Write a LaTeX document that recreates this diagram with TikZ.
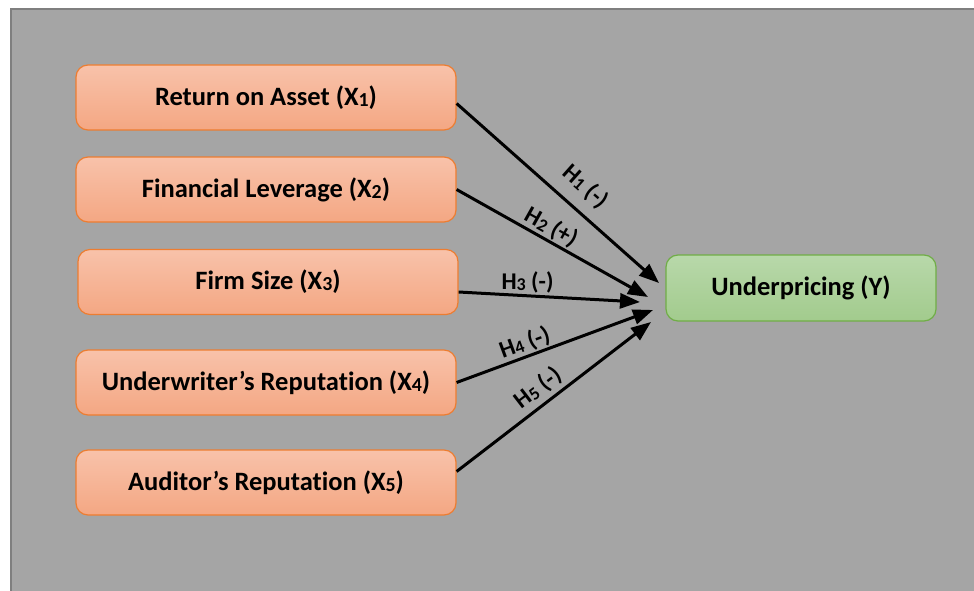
\documentclass[tikz,border=0pt]{standalone}
\usepackage{fontspec}
\setmainfont{Carlito}[Ligatures=NoCommon]
\usetikzlibrary{arrows.meta}

\definecolor{framegray}{HTML}{7F7F7F}
\definecolor{bggray}{HTML}{A5A5A5}
\definecolor{boxline}{HTML}{ED7D31}
\definecolor{boxtop}{HTML}{F8C2AA}
\definecolor{boxbot}{HTML}{F4A783}
\definecolor{depline}{HTML}{70AD47}
\definecolor{deptop}{HTML}{B8D8AA}
\definecolor{depbot}{HTML}{A2CB8D}

\newcommand{\subidx}[1]{\raisebox{-1pt}{\scalebox{0.75}{#1}}}

\begin{document}
\begin{tikzpicture}[x=1pt,y=-1pt,
  varbox/.style={draw=boxline, line width=1.2pt, rounded corners=12pt,
    top color=boxtop, bottom color=boxbot,
    minimum width=380pt, minimum height=65pt,
    font=\fontsize{26.5}{30}\selectfont\bfseries},
  depbox/.style={varbox, draw=depline, top color=deptop, bottom color=depbot,
    minimum width=270pt, minimum height=66pt},
  hyp/.style={-{Triangle[length=20pt,width=15pt]}, line width=3pt},
  hlab/.style={font=\fontsize{24}{27}\selectfont\bfseries, inner sep=1pt}]

	\useasboundingbox (0,0) rectangle (974,591);
	\fill[white] (0,0) rectangle (974,591);
	\draw[fill=bggray, draw=framegray, line width=2pt] (10.5,9.5) rectangle (990,610);

	% independent variables
	\node[varbox] (ra) at (266,97.5) {Return on Asset (X\subidx{1})};
	\node[varbox] (fl) at (266,189.5) {Financial Leverage (X\subidx{2})};
	\node[varbox] (fs) at (268,282) {Firm Size (X\subidx{3})};
	\node[varbox] (ur) at (266,382.5) {Underwriter’s Reputation (X\subidx{4})};
	\node[varbox] (ar) at (266,482.5) {Auditor’s Reputation (X\subidx{5})};

	% dependent variable
	\node[depbox] (up) at (801,288) {Underpricing (Y)};

	% arrow tips in front of Y
	\coordinate (t1) at (659,283);
	\coordinate (t2) at (648,297);
	\coordinate (t3) at (640,302);
	\coordinate (t4) at (653,310);
	\coordinate (t5) at (651,322);

	\draw[hyp] ([yshift=-6pt]ra.east) -- node[hlab, sloped, above=10pt, pos=0.56] {H\subidx{1} (-)} (t1);
	\draw[hyp] (fl.east) -- node[hlab, sloped, above, pos=0.46] {H\subidx{2} (+)} (t2);
	\draw[hyp] ([yshift=-10pt]fs.east) -- node[hlab, above, pos=0.38] {H\subidx{3} (-)} (t3);
	\draw[hyp] (ur.east) -- node[hlab, sloped, above, pos=0.37] {H\subidx{4} (-)} (t4);
	\draw[hyp] ([yshift=11pt]ar.east) -- node[hlab, sloped, above=3pt, pos=0.47] {H\subidx{5} (-)} (t5);

\end{tikzpicture}
\end{document}
